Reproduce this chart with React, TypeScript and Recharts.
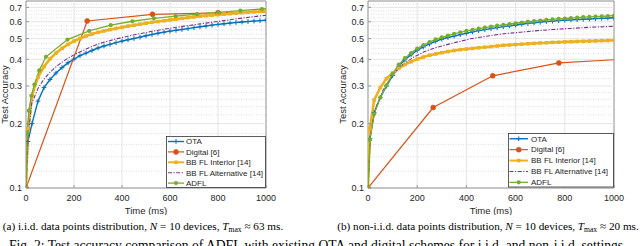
import React from 'react';
import { LineChart, Line, XAxis, YAxis, ReferenceLine, ReferenceArea, Legend } from 'recharts';

// ---------- tick labels ----------
const timeTicks = [0, 200, 400, 600, 800, 1000];
const accTicks = [0.1, 0.2, 0.3, 0.4, 0.5, 0.6, 0.7];
const accMinor = [0.12, 0.14, 0.16, 0.18, 0.22, 0.24, 0.26, 0.28, 0.325, 0.35, 0.375, 0.425, 0.45, 0.475, 0.525, 0.55, 0.575, 0.625, 0.65, 0.675, 0.725];

const seriesNames = ['OTA', 'Digital [6]', 'BB FL Interior [14]', 'BB FL Alternative [14]', 'ADFL'];

// ---------- shared time grid for densely sampled curves (ms) ----------
const denseTimes = [0, 8, 25, 50, 75, 100, 125, 150, 175, 200, 225, 250, 275, 300, 325, 350, 375, 400, 425, 450, 475, 500, 525, 550, 575, 600, 625, 650, 675, 700, 725, 750, 775, 800, 825, 850, 875, 900, 925, 950, 975, 1000];

// ---------- (a) i.i.d. ----------
const iidOta = [0.1, 0.165, 0.2, 0.255, 0.295, 0.322, 0.345, 0.366, 0.385, 0.401, 0.416, 0.428, 0.44, 0.452, 0.462, 0.47, 0.479, 0.487, 0.494, 0.501, 0.508, 0.516, 0.523, 0.53, 0.536, 0.542, 0.547, 0.552, 0.557, 0.563, 0.568, 0.573, 0.578, 0.583, 0.587, 0.591, 0.595, 0.598, 0.601, 0.604, 0.607, 0.61];
const iidDigitalT = [0, 255, 527, 800, 1070];
const iidDigital = [0.1, 0.605, 0.65, 0.66, 0.668];
const iidInterior = [0.1, 0.19, 0.27, 0.33, 0.37, 0.402, 0.428, 0.45, 0.47, 0.487, 0.501, 0.514, 0.525, 0.535, 0.543, 0.551, 0.558, 0.565, 0.572, 0.578, 0.584, 0.59, 0.596, 0.601, 0.606, 0.612, 0.617, 0.622, 0.627, 0.632, 0.636, 0.64, 0.644, 0.647, 0.651, 0.654, 0.658, 0.661, 0.664, 0.667, 0.67, 0.672];
const iidAltT = [0, 8, 24, 50, 72, 100, 128, 170, 211, 260, 308, 380, 447, 520, 586, 660, 725, 800, 864, 930, 1000];
const iidAlt = [0.1, 0.17, 0.249, 0.292, 0.32, 0.348, 0.372, 0.402, 0.426, 0.452, 0.475, 0.5, 0.52, 0.54, 0.556, 0.572, 0.586, 0.602, 0.616, 0.63, 0.643];
const iidAdflT = [0, 5, 12, 22, 35, 55, 83, 173, 263, 353, 443, 533, 623, 713, 803, 893, 983, 1073];
const iidAdfl = [0.1, 0.18, 0.23, 0.27, 0.305, 0.355, 0.411, 0.495, 0.543, 0.578, 0.603, 0.622, 0.637, 0.651, 0.663, 0.676, 0.688, 0.698];

// ---------- (b) non-i.i.d. ----------
const niidOta = [0.1, 0.17, 0.225, 0.265, 0.3, 0.336, 0.372, 0.398, 0.42, 0.441, 0.457, 0.472, 0.486, 0.497, 0.506, 0.514, 0.522, 0.53, 0.538, 0.545, 0.551, 0.557, 0.563, 0.569, 0.574, 0.579, 0.584, 0.589, 0.593, 0.597, 0.601, 0.604, 0.607, 0.61, 0.612, 0.614, 0.616, 0.618, 0.62, 0.622, 0.624, 0.626];
const niidDigitalT = [0, 265, 507, 776, 1045];
const niidDigital = [0.1, 0.238, 0.335, 0.385, 0.401];
const niidInterior = [0.1, 0.19, 0.258, 0.295, 0.325, 0.345, 0.363, 0.378, 0.39, 0.401, 0.41, 0.418, 0.424, 0.43, 0.435, 0.44, 0.444, 0.447, 0.45, 0.453, 0.456, 0.459, 0.462, 0.465, 0.467, 0.469, 0.471, 0.473, 0.475, 0.477, 0.478, 0.48, 0.481, 0.483, 0.484, 0.485, 0.486, 0.487, 0.488, 0.489, 0.49, 0.491];
const niidAltT = [0, 10, 30, 60, 90, 130, 186, 230, 281, 350, 416, 480, 551, 620, 690, 754, 820, 900, 1000];
const niidAlt = [0.1, 0.18, 0.235, 0.285, 0.325, 0.37, 0.41, 0.435, 0.456, 0.478, 0.499, 0.513, 0.527, 0.536, 0.545, 0.552, 0.558, 0.565, 0.571];
const niidAdfl = [0.1, 0.168, 0.222, 0.265, 0.302, 0.342, 0.378, 0.405, 0.428, 0.449, 0.466, 0.482, 0.496, 0.507, 0.517, 0.526, 0.535, 0.543, 0.55, 0.557, 0.563, 0.569, 0.575, 0.58, 0.585, 0.59, 0.595, 0.6, 0.604, 0.608, 0.612, 0.615, 0.618, 0.621, 0.624, 0.627, 0.63, 0.632, 0.634, 0.636, 0.638, 0.64];

// ---------- styling ----------
const SANS = '"Liberation Sans", Arial, Helvetica, sans-serif';
const SERIF = '"Liberation Serif", "Times New Roman", Times, serif';
const TXT = '#262626';
const COLORS = ['#0072BD', '#D95319', '#EDB120', '#7E2F8E', '#77AC30'];
const KINDS = ['plus', 'circle', 'square', 'none', 'dot'];
const WIDTHS = [1.4, 1.2, 2.6, 1.1, 1.3];
const DASHES = [undefined, undefined, undefined, '4 1.5 1.2 1.5', undefined];

type Pt = { t: number; v: number };
const zip = (ts: number[], vs: number[]): Pt[] => ts.map((t, i) => ({ t, v: vs[i] }));

function Marker({ kind, cx, cy, color }: { kind: string; cx: number; cy: number; color: string }) {
  if (cx == null || cy == null || isNaN(cx) || isNaN(cy)) return <g />;
  if (kind === 'plus') {
    return (
      <g>
        <line x1={cx - 2.4} y1={cy} x2={cx + 2.4} y2={cy} stroke={color} strokeWidth={1} />
        <line x1={cx} y1={cy - 2.4} x2={cx} y2={cy + 2.4} stroke={color} strokeWidth={1} />
      </g>
    );
  }
  if (kind === 'circle') return <circle cx={cx} cy={cy} r={2.5} fill={color} stroke={color} strokeWidth={0.6} />;
  if (kind === 'square') return <rect x={cx - 1.8} y={cy - 1.8} width={3.6} height={3.6} fill={color} />;
  if (kind === 'dot') return <circle cx={cx} cy={cy} r={2.1} fill={color} />;
  return <g />;
}

type PanelProps = {
  left: number;
  width: number;
  yAxisWidth: number;
  marginRight: number;
  series: Pt[][];
  legend: { x: number; y: number; w: number; h: number; lx1: number; lx2: number; tx: number };
};

function LegendBox({ w, h, lx1, lx2, tx }: { w: number; h: number; lx1: number; lx2: number; tx: number }) {
  const rowH = h / seriesNames.length;
  return (
    <svg width={w} height={h} style={{ display: 'block' }}>
      <rect x={0.5} y={0.5} width={w - 1} height={h - 1} fill="#ffffff" stroke="#333333" strokeWidth={0.8} />
      {seriesNames.map((name, i) => {
        const cy = rowH * (i + 0.5) + 0.3;
        return (
          <g key={name}>
            <line x1={lx1} y1={cy} x2={lx2} y2={cy} stroke={COLORS[i]} strokeWidth={WIDTHS[i] > 2 ? 2 : WIDTHS[i]} strokeDasharray={DASHES[i]} />
            <Marker kind={KINDS[i]} cx={(lx1 + lx2) / 2} cy={cy} color={COLORS[i]} />
            <text x={tx} y={cy} dy="0.35em" fontSize={8} fontFamily={SANS} fill={TXT}>{name}</text>
          </g>
        );
      })}
    </svg>
  );
}

function Panel({ left, width, yAxisWidth, marginRight, series, legend }: PanelProps) {
  return (
    <div style={{ position: 'absolute', left, top: 0 }}>
      <LineChart width={width} height={215} margin={{ top: 1, right: marginRight, bottom: 0, left: 0 }}>
        <XAxis
          dataKey="t"
          type="number"
          domain={[0, 1000]}
          allowDataOverflow
          ticks={timeTicks}
          interval={0}
          height={27}
          axisLine={false}
          tickLine={{ stroke: '#808080', strokeWidth: 0.8 }}
          tickSize={-3}
          tickMargin={10}
          tick={{ fontSize: 9, fontFamily: SANS, fill: TXT }}
          label={{ value: 'Time (ms)', position: 'insideBottom', offset: 1, fontSize: 9.5, fontFamily: SANS, fill: TXT }}
        />
        <YAxis
          type="number"
          scale="log"
          domain={[0.1, 0.75]}
          allowDataOverflow
          ticks={accTicks}
          interval={0}
          width={yAxisWidth}
          axisLine={false}
          tickLine={{ stroke: '#808080', strokeWidth: 0.8 }}
          tickSize={-3}
          tickMargin={7}
          tickFormatter={(v: number) => v.toFixed(1)}
          tick={{ fontSize: 9, fontFamily: SANS, fill: TXT }}
          label={{ value: 'Test Accuracy', angle: -90, position: 'insideLeft', offset: 5, fontSize: 9.5, fontFamily: SANS, fill: TXT, style: { textAnchor: 'middle' } }}
        />
        {accMinor.map((v) => (
          <ReferenceLine key={'m' + v} y={v} stroke="#cfcfcf" strokeWidth={0.7} strokeDasharray="1 1.5" />
        ))}
        {accTicks.slice(1).map((v) => (
          <ReferenceLine key={'y' + v} y={v} stroke="#e2e2e2" strokeWidth={0.9} />
        ))}
        {timeTicks.slice(1, -1).map((v) => (
          <ReferenceLine key={'x' + v} x={v} stroke="#e2e2e2" strokeWidth={0.9} />
        ))}
        {series.map((data, i) => (
          <Line
            key={seriesNames[i]}
            data={data}
            dataKey="v"
            type="linear"
            stroke={COLORS[i]}
            strokeWidth={WIDTHS[i]}
            strokeDasharray={DASHES[i]}
            dot={KINDS[i] === 'none' ? false : (p: any) => <Marker key={'d' + i + '-' + p.index} kind={KINDS[i]} cx={p.cx} cy={p.cy} color={COLORS[i]} />}
            activeDot={false}
            isAnimationActive={false}
            legendType="none"
          />
        ))}
        <ReferenceArea x1={0} x2={1000} y1={0.1} y2={0.75} fill="none" stroke="#808080" strokeWidth={0.9} ifOverflow="visible" />
        <Legend
          layout="vertical"
          align="center"
          verticalAlign="middle"
          wrapperStyle={{ position: 'absolute', left: legend.x, top: legend.y, width: legend.w, height: legend.h }}
          content={() => <LegendBox w={legend.w} h={legend.h} lx1={legend.lx1} lx2={legend.lx2} tx={legend.tx} />}
        />
      </LineChart>
    </div>
  );
}

const iidSeries: Pt[][] = [
  zip(denseTimes, iidOta),
  zip(iidDigitalT, iidDigital),
  zip(denseTimes, iidInterior),
  zip(iidAltT, iidAlt),
  zip(iidAdflT, iidAdfl),
];

const niidSeries: Pt[][] = [
  zip(denseTimes, niidOta),
  zip(niidDigitalT, niidDigital),
  zip(denseTimes, niidInterior),
  zip(niidAltT, niidAlt),
  zip(denseTimes, niidAdfl),
];

const subStyle: React.CSSProperties = { fontSize: '0.68em', verticalAlign: '-0.2em' };

export default function App() {
  return (
    <div style={{ position: 'absolute', left: 0, top: 0, width: 640, height: 246, overflow: 'hidden', background: '#ffffff' }}>
      <Panel
        left={0}
        width={280}
        yAxisWidth={26}
        marginRight={14}
        series={iidSeries}
        legend={{ x: 166, y: 136, w: 100, h: 52, lx1: 2, lx2: 18, tx: 20 }}
      />
      <Panel
        left={338}
        width={290}
        yAxisWidth={30}
        marginRight={14}
        series={niidSeries}
        legend={{ x: 170, y: 133, w: 106, h: 54.5, lx1: 1.5, lx2: 20, tx: 23 }}
      />
      <div style={{ position: 'absolute', left: -4, top: 219.5, width: 294, textAlign: 'center', fontFamily: SERIF, fontSize: 11.2, lineHeight: '12px', color: '#000', whiteSpace: 'nowrap' }}>
        (a) i.i.d. data points distribution, <i>N</i> = 10 devices, <i>T</i><span style={subStyle}>max</span> ≈ 63 ms.
      </div>
      <div style={{ position: 'absolute', left: 334, top: 219.5, width: 308, textAlign: 'center', fontFamily: SERIF, fontSize: 11.2, lineHeight: '12px', color: '#000', whiteSpace: 'nowrap' }}>
        (b) non-i.i.d. data points distribution, <i>N</i> = 10 devices, <i>T</i><span style={subStyle}>max</span> ≈ 20 ms.
      </div>
      <div style={{ position: 'absolute', left: 9, top: 239, width: 640, fontFamily: SERIF, fontSize: 13.6, lineHeight: '14px', color: '#000', whiteSpace: 'nowrap' }}>
        Fig. 2: Test accuracy comparison of ADFL with existing OTA and digital schemes for i.i.d. and non-i.i.d. settings.
      </div>
    </div>
  );
}
